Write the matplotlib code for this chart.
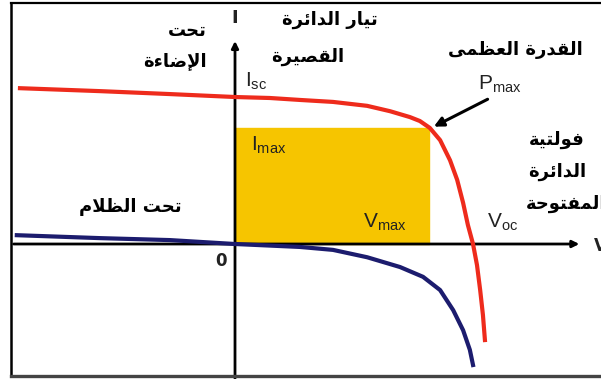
import matplotlib
matplotlib.use("Agg")
import matplotlib.pyplot as plt
from matplotlib.lines import Line2D

plt.rcParams["mathtext.fontset"] = "custom"
plt.rcParams["mathtext.rm"] = "Liberation Sans"
plt.rcParams["mathtext.it"] = "Liberation Sans"

# ---------------------------------------------------------
# Courbes I-V (tension en V, courant en A)
# ---------------------------------------------------------
v_light = [-0.542, -0.34, -0.164, 0.0, 0.088, 0.164, 0.247, 0.333, 0.391, 0.441, 0.466, 0.491,
           0.517, 0.542, 0.560, 0.575, 0.587, 0.600, 0.610, 0.618, 0.625, 0.630]
i_light = [3.18, 3.12, 3.06, 3.0, 2.98, 2.94, 2.90, 2.82, 2.71, 2.59, 2.51, 2.37,
           2.12, 1.71, 1.31, 0.84, 0.39, 0.0, -0.43, -0.94, -1.45, -1.96]

v_dark = [-0.55, -0.34, -0.164, 0.0, 0.164, 0.247, 0.333, 0.416, 0.474, 0.517, 0.550, 0.575, 0.592, 0.600]
i_dark = [0.18, 0.12, 0.08, 0.0, -0.06, -0.12, -0.27, -0.47, -0.67, -0.94, -1.35, -1.76, -2.16, -2.47]

v_max = 0.49
i_max = 2.37
v_oc = 0.60
i_sc = 3.0

# ---------------------------------------------------------
# Mise en forme de l'arabe (formes contextuelles + ordre visuel)
# ---------------------------------------------------------
FORMS = {
    "ا": (0xFE8D, False), "إ": (0xFE87, False), "ء": (0xFE80, None),
    "ت": (0xFE95, True), "ة": (0xFE93, False), "ح": (0xFEA1, True),
    "د": (0xFEA9, False), "ر": (0xFEAD, False), "ئ": (0xFE89, True),
    "ي": (0xFEF1, True), "ض": (0xFEBD, True), "ص": (0xFEB9, True),
    "ق": (0xFED5, True), "ل": (0xFEDD, True), "ع": (0xFEC9, True),
    "ظ": (0xFEC5, True), "م": (0xFEE1, True), "ى": (0xFEEF, False),
    "ف": (0xFED1, True), "و": (0xFEED, False),
    "لا": (0xFEFB, False), "لإ": (0xFEF9, False),
}


def shape(text):
    tokens = []
    k = 0
    while k < len(text):
        if text[k] == "ل" and k + 1 < len(text) and text[k:k + 2] in FORMS:
            tokens.append(text[k:k + 2])
            k += 2
        else:
            tokens.append(text[k])
            k += 1
    out = []
    for n, t in enumerate(tokens):
        if t not in FORMS:
            out.append(t)
            continue
        base, dual = FORMS[t]
        prev = tokens[n - 1] if n > 0 else None
        nxt = tokens[n + 1] if n + 1 < len(tokens) else None
        join_prev = prev in FORMS and FORMS[prev][1] is True and dual is not None
        join_next = dual is True and nxt in FORMS and FORMS[nxt][1] is not None
        if join_prev and join_next:
            out.append(chr(base + 3))
        elif join_prev:
            out.append(chr(base + 1))
        elif join_next:
            out.append(chr(base + 2))
        else:
            out.append(chr(base))
    return "".join(reversed(out))


# ---------------------------------------------------------
# Figure
# ---------------------------------------------------------
fig = plt.figure(figsize=(6.01, 3.79), dpi=100)
ax = fig.add_axes([0, 0, 1, 1])
ax.set_xlim(-0.5924, 0.9226)
ax.set_ylim(-2.755, 4.98)
ax.axis("off")

# cadre
fig.add_artist(Line2D([11 / 601, 11 / 601], [1 - 3 / 379, 1 - 376 / 379], color="black", lw=1.8))
fig.add_artist(Line2D([11 / 601, 1], [1 - 3 / 379, 1 - 3 / 379], color="black", lw=1.6))
fig.add_artist(Line2D([11 / 601, 1], [1 - 376 / 379, 1 - 376 / 379], color="#444444", lw=2.4))

# rectangle de puissance max
ax.fill_between([0, v_max], 0, i_max, color="#f6c500", zorder=1)

# axes avec flèches
ax.annotate("", xy=(0, 4.2), xytext=(0, -2.8),
            arrowprops=dict(arrowstyle="-|>", lw=2, color="black", mutation_scale=10), zorder=3)
ax.annotate("", xy=(0.875, 0), xytext=(-0.565, 0),
            arrowprops=dict(arrowstyle="-|>", lw=2, color="black", mutation_scale=10), zorder=3)

ax.plot(v_dark, i_dark, color="#1c1c6e", lw=3, zorder=4, solid_joinstyle="round")
ax.plot(v_light, i_light, color="#ee2b1c", lw=3, zorder=5, solid_joinstyle="round")

# flèche vers Pmax
ax.annotate("", xy=(v_max + 0.005, i_max), xytext=(0.643, 2.98),
            arrowprops=dict(arrowstyle="-|>", lw=2.2, color="black", mutation_scale=14), zorder=6)

# textes arabes
ar = dict(family="DejaVu Sans", fontweight="bold", color="black", fontsize=13)
ax.text(-0.07, 4.35, shape("تحت"), ha="right", va="center", **ar)
ax.text(-0.07, 3.74, shape("الإضاءة"), ha="right", va="center", **ar)
ax.text(0.24, 4.58, shape("تيار الدائرة"), ha="center", va="center", **ar)
ax.text(0.183, 3.82, shape("القصيرة"), ha="center", va="center", **ar)
ax.text(0.708, 3.96, shape("القدرة العظمى"), ha="center", va="center", **ar)
ax.text(0.812, 2.12, shape("فولتية"), ha="center", va="center", **ar)
ax.text(0.812, 1.47, shape("الدائرة"), ha="center", va="center", **ar)
ax.text(0.935, 0.82, shape("المفتوحة"), ha="right", va="center", **ar)
ax.text(-0.265, 0.76, shape("تحت الظلام"), ha="center", va="center", **ar)

# symboles
sym = dict(color="#222222", fontsize=15)
ax.text(0.025, i_sc + 0.1, r"$\mathrm{I_{sc}}$", ha="left", va="bottom", **sym)
ax.text(0.612, 3.05, r"$\mathrm{P_{max}}$", ha="left", va="bottom", **sym)
ax.text(0.04, 1.8, r"$\mathrm{I_{max}}$", ha="left", va="bottom", **sym)
ax.text(0.322, 0.22, r"$\mathrm{V_{max}}$", ha="left", va="bottom", **sym)
ax.text(0.635, 0.22, r"$\mathrm{V_{oc}}$", ha="left", va="bottom", **sym)
ax.text(0.0, 4.62, "I", ha="center", va="center", fontsize=13, fontweight="bold", color="#222222")
ax.text(0.905, -0.05, "V", ha="left", va="center", fontsize=12, fontweight="bold", color="#222222")
ax.text(-0.035, -0.35, "0", ha="center", va="center", fontsize=12, fontweight="bold", color="#222222")

fig.savefig("out.png", dpi=100)
